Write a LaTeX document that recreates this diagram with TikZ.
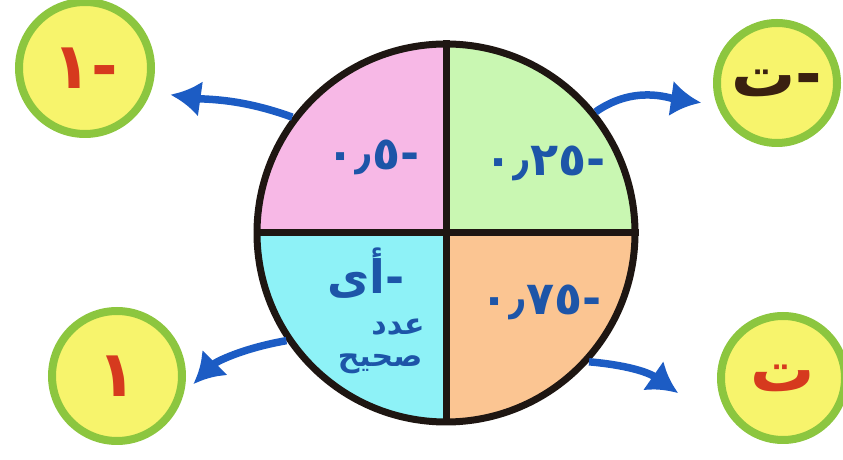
\documentclass[tikz,border=0pt]{standalone}
\usepackage{fontspec}
\usetikzlibrary{arrows.meta}
\TeXXeTstate=1
\newfontfamily\arabicfont[Script=Arabic]{DejaVu Sans}
\definecolor{pinkq}{HTML}{F7B8E6}
\definecolor{greenq}{HTML}{C9F7B2}
\definecolor{cyanq}{HTML}{8EF2F7}
\definecolor{orangeq}{HTML}{FBC592}
\definecolor{rim}{HTML}{1E1612}
\definecolor{ballyellow}{HTML}{F7F46C}
\definecolor{ringgreen}{HTML}{8CC63F}
\definecolor{valblue}{HTML}{1D55A8}
\definecolor{arrowblue}{HTML}{1C5CC4}
\definecolor{letterred}{HTML}{D63A1E}
\definecolor{letterdark}{HTML}{3A2010}
\begin{document}
\begin{tikzpicture}[x=1pt,y=1pt,
    ring/.style={circle,draw=ringgreen,line width=8pt,fill=ballyellow,
      minimum size=#1,inner sep=0pt,
      font=\arabicfont\bfseries\fontsize{64}{64}\selectfont},
    val/.style={text=valblue,font=\arabicfont\bfseries\fontsize{46}{46}\selectfont},
    small/.style={text=valblue,font=\arabicfont\bfseries\fontsize{30}{30}\selectfont},
    curl/.style={draw=arrowblue,line width=7.5pt,-{Latex[length=30pt,width=36pt]}}]
  \useasboundingbox (0,0) rectangle (843,460);
  % the four quarters of the big circle
  \foreach \a/\col in {0/greenq,90/pinkq,180/cyanq,270/orangeq}{
    \fill[\col] (446,227) -- ++(\a:189) arc[start angle=\a,delta angle=90,radius=189] -- cycle;
  }
  \node[circle,draw=rim,line width=7pt,minimum size=378pt,inner sep=0pt] (main) at (446,227) {};
  \draw[rim,line width=7pt] (main.north) -- (main.south) (main.west) -- (main.east);
  % values in the quarters
  \node[val] (v1) at (373,303) {\beginR -٠٫٥\endR};
  \node[val] (v2) at (545,297) {\beginR -٠٫٢٥\endR};
  \node[val] (v3) at (541,158) {\beginR -٠٫٧٥\endR};
  \node[val] (v4) at (366,187) {\beginR -أى\endR};
  \node[small] (v5) at (398,133) {\beginR عدد\endR};
  \node[small] (v6) at (380,96) {\beginR صحيح\endR};
  % the answers round it
  \node[ring=132pt,text=letterred] (o1) at (85,392) {\beginR -١\endR};
  \node[ring=120pt,text=letterdark] (o2) at (777,377) {\beginR -ت\endR};
  \node[ring=130pt,text=letterred] (o3) at (117,84) {\beginR ١\endR};
  \node[ring=124pt,text=letterred] (o4) at (783,82) {\beginR ت\endR};
  \coordinate (t4) at (678,67);
  \draw[curl,shorten >=20pt] (main.143) to[out=160,in=-8] (o1.-20);
  \draw[curl,shorten >=16pt] (main.39) to[out=35,in=172] (o2.200);
  \draw[curl,shorten >=14pt] (main.214) to[out=190,in=45] (o3.-15);
  \draw[curl] (main.318) to[out=-5,in=145] (t4);
\end{tikzpicture}
\end{document}
